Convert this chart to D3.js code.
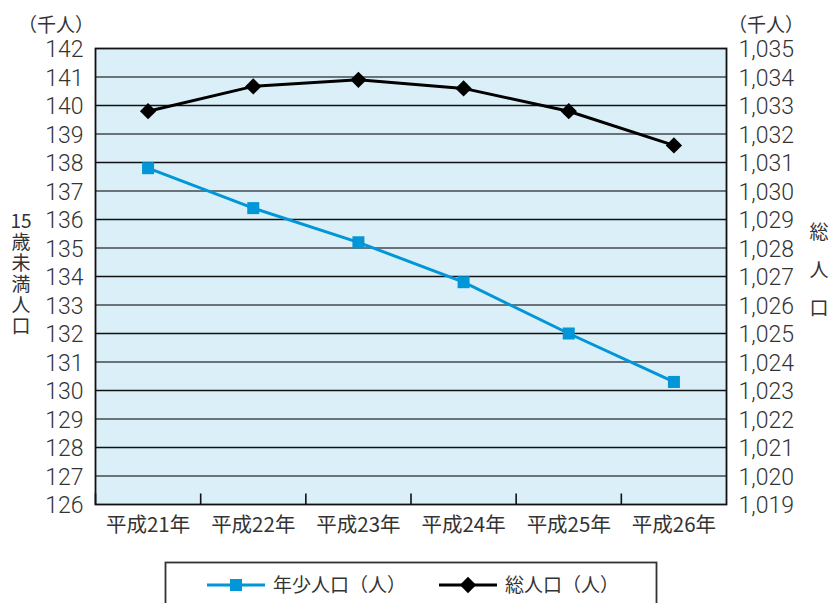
<!DOCTYPE html>
<html>
<head>
<meta charset="utf-8">
<script src="https://cdn.jsdelivr.net/npm/d3@7/dist/d3.min.js"></script>
<style>
  html, body { margin: 0; padding: 0; background: #fff; }
  svg { display: block; }
  text { font-family: "Noto Sans CJK JP", "Noto Sans", sans-serif; fill: #333; }
  .num text { font-family: Roboto, "Liberation Sans", sans-serif; font-weight: 300; }
</style>
</head>
<body>
<svg id="chart" width="833" height="603"></svg>
<script>
// Fiscal years (Heisei era)
const years = ["平成21年", "平成22年", "平成23年", "平成24年", "平成25年", "平成26年"];
// Population under 15 (thousands) – left axis
const youth = [137.8, 136.4, 135.2, 133.8, 132.0, 130.3];
// Total population (thousands) – right axis
const total = [1032.8, 1033.67, 1033.9, 1033.6, 1032.8, 1031.6];
const leftTicks = d3.range(126, 143);
const rightTicks = d3.range(1019, 1036);
const seriesNames = ["年少人口（人）", "総人口（人）"];

const svg = d3.select("#chart");
const m = { left: 95.5, right: 726.5, top: 48.5, bottom: 504.5 };

const x = d3.scaleBand().domain(years).range([m.left, m.right]);
const yL = d3.scaleLinear().domain([126, 142]).range([m.bottom, m.top]);
const yR = d3.scaleLinear().domain([1019, 1035]).range([m.bottom, m.top]);

// plot background
svg.append("rect")
  .attr("x", m.left).attr("y", m.top)
  .attr("width", m.right - m.left).attr("height", m.bottom - m.top)
  .attr("fill", "#daeff8");

// horizontal grid: even values black, odd values grey
svg.append("g").selectAll("line")
  .data(leftTicks.slice(1, -1))
  .join("line")
  .attr("x1", m.left).attr("x2", m.right)
  .attr("y1", d => yL(d)).attr("y2", d => yL(d))
  .attr("stroke", d => d % 2 === 0 ? "#111" : "#6b7379")
  .attr("stroke-width", d => d % 2 === 0 ? 1.6 : 2);

// category tick marks at band boundaries
svg.append("g").selectAll("line")
  .data(years)
  .join("line")
  .attr("x1", d => x(d)).attr("x2", d => x(d))
  .attr("y1", m.bottom).attr("y2", m.bottom - 11)
  .attr("stroke", "#111").attr("stroke-width", 1.6);

// plot frame
svg.append("rect")
  .attr("x", m.left).attr("y", m.top)
  .attr("width", m.right - m.left).attr("height", m.bottom - m.top)
  .attr("fill", "none").attr("stroke", "#111").attr("stroke-width", 1.8);

// left axis labels
const axL = svg.append("g").attr("class", "num")
  .attr("transform", `translate(${m.left - 12},0)`)
  .call(d3.axisLeft(yL).tickValues(leftTicks).tickSize(0).tickPadding(0).tickFormat(d3.format("d")));
axL.select(".domain").remove();
axL.selectAll("text").attr("font-size", 23).attr("font-family", null).attr("fill", "#333").attr("dy", "0.36em");

// right axis labels
const axR = svg.append("g").attr("class", "num")
  .attr("transform", `translate(${m.right + 12},0)`)
  .call(d3.axisRight(yR).tickValues(rightTicks).tickSize(0).tickPadding(0).tickFormat(d3.format(",")));
axR.select(".domain").remove();
axR.selectAll("text").attr("font-size", 23).attr("font-family", null).attr("fill", "#333").attr("dy", "0.36em");

// category labels
const axB = svg.append("g")
  .attr("transform", `translate(0,${m.bottom + 9})`)
  .call(d3.axisBottom(x).tickSize(0).tickPadding(0));
axB.select(".domain").remove();
axB.selectAll("text").attr("font-size", 20.5).attr("font-family", "'Noto Sans CJK JP', sans-serif").attr("fill", "#333").attr("dy", "0.9em");

// unit captions
svg.append("text").attr("x", 56).attr("y", 25).attr("dy", "0.35em")
  .attr("text-anchor", "middle").attr("font-size", 19).text("（千人）");
svg.append("text").attr("x", 766).attr("y", 25).attr("dy", "0.35em")
  .attr("text-anchor", "middle").attr("font-size", 19).text("（千人）");

// vertical axis titles
svg.append("text").attr("x", 21).attr("y", 221).attr("dy", "0.35em")
  .attr("text-anchor", "middle").attr("font-size", 19).text("15");
svg.append("text").attr("x", 21).attr("y", 232)
  .style("writing-mode", "vertical-rl")
  .attr("font-size", 19).attr("letter-spacing", 2).text("歳未満人口");
svg.append("text").attr("x", 819).attr("y", 222)
  .style("writing-mode", "vertical-rl")
  .attr("font-size", 19).attr("letter-spacing", 19).text("総人口");

const cx = d => x(d) + x.bandwidth() / 2;
const blue = "#0096d8";

// youth series
svg.append("path")
  .datum(years.map((d, i) => [cx(d), yL(youth[i])]))
  .attr("d", d3.line()).attr("fill", "none")
  .attr("stroke", blue).attr("stroke-width", 3);
svg.append("g").selectAll("rect").data(years).join("rect")
  .attr("x", d => cx(d) - 6).attr("y", (d, i) => yL(youth[i]) - 6)
  .attr("width", 12).attr("height", 12).attr("fill", blue);

// total series
const diamond = d3.symbol().type(d3.symbolDiamond2).size(170);
svg.append("path")
  .datum(years.map((d, i) => [cx(d), yR(total[i])]))
  .attr("d", d3.line()).attr("fill", "none")
  .attr("stroke", "#000").attr("stroke-width", 3);
svg.append("g").selectAll("path").data(years).join("path")
  .attr("d", diamond)
  .attr("transform", (d, i) => `translate(${cx(d)},${yR(total[i])})`)
  .attr("fill", "#000");

// legend
const lg = svg.append("g");
lg.append("rect").attr("x", 165.5).attr("y", 562.5).attr("width", 491).attr("height", 60)
  .attr("fill", "#fff").attr("stroke", "#333").attr("stroke-width", 1.8);
lg.append("line").attr("x1", 207).attr("x2", 265).attr("y1", 585).attr("y2", 585)
  .attr("stroke", blue).attr("stroke-width", 3);
lg.append("rect").attr("x", 230).attr("y", 579).attr("width", 12).attr("height", 12).attr("fill", blue);
lg.append("text").attr("x", 273).attr("y", 585).attr("dy", "0.35em").attr("font-size", 19).text(seriesNames[0]);
lg.append("line").attr("x1", 439).attr("x2", 497).attr("y1", 585).attr("y2", 585)
  .attr("stroke", "#000").attr("stroke-width", 3);
lg.append("path").attr("d", diamond).attr("transform", "translate(468,585)").attr("fill", "#000");
lg.append("text").attr("x", 505).attr("y", 585).attr("dy", "0.35em").attr("font-size", 19).text(seriesNames[1]);
</script>
</body>
</html>
